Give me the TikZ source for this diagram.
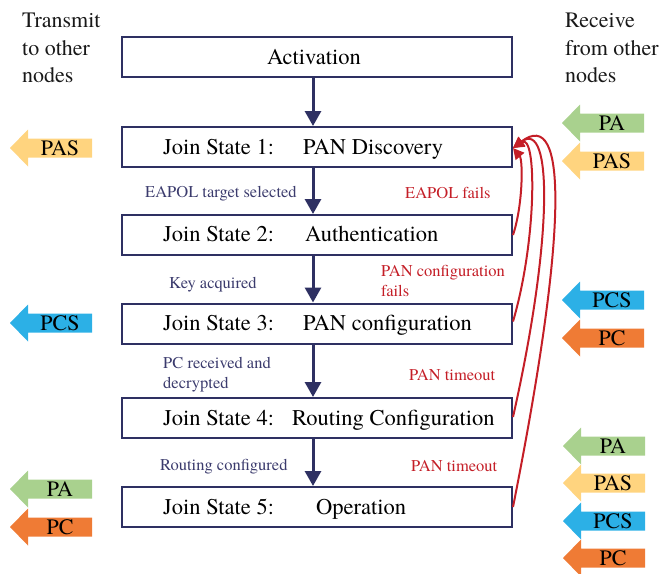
\documentclass[tikz,border=0pt]{standalone}
\usepackage{fontspec}
\setmainfont{texgyretermes}[Extension=.otf, UprightFont=*-regular, BoldFont=*-bold, ItalicFont=*-italic, BoldItalicFont=*-bolditalic]
\usetikzlibrary{arrows.meta}
\definecolor{navy}{HTML}{2E3062}
\definecolor{lbl}{HTML}{3B3B6D}
\definecolor{redc}{HTML}{C41E27}
\definecolor{cgreen}{HTML}{A9D18E}
\definecolor{cgold}{HTML}{FFD47F}
\definecolor{cblue}{HTML}{2CB0E6}
\definecolor{corange}{HTML}{EF7B35}
\newcommand{\sigarrow}[5]{%
  \fill[#4] (#2,#3) -- ++(18,-18.5) -- ++(0,9) -- ++(64,0) -- ++(0,19) -- ++(-64,0) -- ++(0,9) -- cycle;
  \node[sigtext] (#1) at (#2+50,#3) {#5};
}
\tikzset{
  box/.style={draw=navy, line width=2pt, minimum width=390pt, minimum height=40pt, inner sep=0pt, fill=white},
  boxtext/.style={font=\fontsize{22.5}{26}\selectfont, inner sep=0pt, text=black},
  sigtext/.style={font=\fontsize{22}{26}\selectfont, inner sep=0pt, text=black},
  head/.style={font=\fontsize{22}{27.5}\selectfont, inner sep=0pt, align=left, anchor=north west, text=black!90},
  lab/.style={font=\fontsize{16.5}{20}\selectfont, text=lbl, inner sep=0pt, align=left},
  fail/.style={lab, text=redc},
  flow/.style={navy, line width=3pt, -{Triangle[length=15pt,width=16pt]}},
  back/.style={redc, line width=2pt, -{Triangle[length=11pt,width=11pt]}}
}
\begin{document}
\begin{tikzpicture}[x=1pt, y=-1pt]
\useasboundingbox (0,0) rectangle (664,573);

% headers
\node[head] (htx) at (22,13) {Transmit\\to other\\nodes};
\node[head] (hrx) at (565,13) {Receive\\from other\\nodes};

% boxes
\node[box] (act) at (317,57) {};
\node[box] (js1) at (317,147) {};
\node[box] (js2) at (317,235) {};
\node[box] (js3) at (317,323.5) {};
\node[box] (js4) at (317,418) {};
\node[box] (js5) at (317,507) {};

\node[boxtext] (tact) at (314,57) {Activation};
\node[boxtext, anchor=base west] (s1) at (163,154) {Join State 1:};
\node[boxtext, anchor=base west] (n1) at (303,154) {PAN Discovery};
\node[boxtext, anchor=base west] (s2) at (163,241.5) {Join State 2:};
\node[boxtext, anchor=base west] (n2) at (305,241.5) {Authentication};
\node[boxtext, anchor=base west] (s3) at (163,330.5) {Join State 3:};
\node[boxtext, anchor=base west] (n3) at (303,330.5) {PAN configuration};
\node[boxtext, anchor=base west] (s4) at (163,425.5) {Join State 4:};
\node[boxtext, anchor=base west] (n4) at (292,425.5) {Routing Configuration};
\node[boxtext, anchor=base west] (s5) at (163,514) {Join State 5:};
\node[boxtext, anchor=base west] (n5) at (316,514) {Operation};

% flow arrows
\draw[flow] ([xshift=-4pt]act.south) -- ([xshift=-4pt]js1.north);
\draw[flow] ([xshift=-4pt]js1.south) -- ([xshift=-4pt]js2.north);
\draw[flow] ([xshift=-4pt]js2.south) -- ([xshift=-4pt]js3.north);
\draw[flow] ([xshift=-4pt]js3.south) -- ([xshift=-4pt]js4.north);
\draw[flow] ([xshift=-4pt]js4.south) -- ([xshift=-4pt]js5.north);

% return arrows
\draw[back] (js2.east) .. controls (523,205) and (523,160) .. ([yshift=-1pt]js1.east);
\draw[back] ([yshift=2pt]js3.east) .. controls (537,240) and (537,132) .. ([yshift=-1pt]js1.east);
\draw[back] ([yshift=1pt]js4.east) .. controls (553,240) and (553,118) .. ([yshift=-1pt]js1.east);
\draw[back] (js5.east) .. controls (568,230) and (568,106) .. ([yshift=-1pt]js1.east);

% labels
\node[lab, anchor=base west] (l1) at (145,197.5) {EAPOL target selected};
\node[fail, anchor=base west] (f1) at (405,198.5) {EAPOL fails};
\node[lab, anchor=base west] (l2) at (169,288) {Key acquired};
\node[fail, anchor=north west] (f2) at (381,264.7) {PAN configuration\\fails};
\node[lab, anchor=north west] (l3) at (163,356.7) {PC received and\\decrypted};
\node[fail, anchor=base west] (f3) at (409,380) {PAN timeout};
\node[lab, anchor=base west] (l4) at (160,470) {Routing configured};
\node[fail, anchor=base west] (f4) at (411,471) {PAN timeout};

% transmit arrows (left)
\sigarrow{tpas}{10}{148}{cgold}{PAS}
\sigarrow{tpcs}{10}{323}{cblue}{PCS}
\sigarrow{tpa}{10}{489}{cgreen}{PA}
\sigarrow{tpc}{10}{527}{corange}{PC}

% receive arrows (right)
\sigarrow{rpa1}{562}{123}{cgreen}{PA}
\sigarrow{rpas1}{562}{161}{cgold}{PAS}
\sigarrow{rpcs1}{562}{300}{cblue}{PCS}
\sigarrow{rpc1}{562}{338}{corange}{PC}
\sigarrow{rpa2}{563}{446}{cgreen}{PA}
\sigarrow{rpas2}{563}{483}{cgold}{PAS}
\sigarrow{rpcs2}{563}{521}{cblue}{PCS}
\sigarrow{rpc2}{563}{558}{corange}{PC}
\end{tikzpicture}
\end{document}
